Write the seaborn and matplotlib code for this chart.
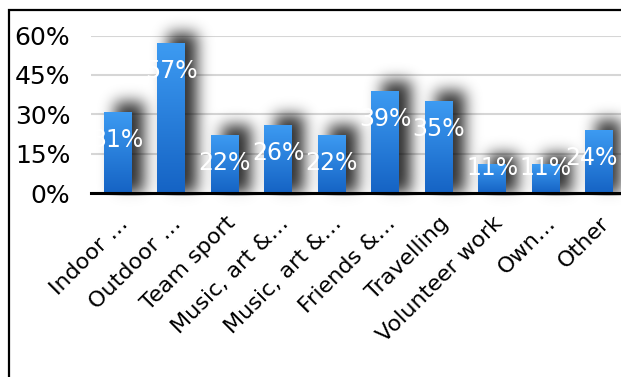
import numpy as np
import matplotlib
matplotlib.use("Agg")
import matplotlib.pyplot as plt
import seaborn as sns
from matplotlib.patches import Rectangle
from matplotlib.colors import LinearSegmentedColormap
from matplotlib.transforms import ScaledTranslation

categories = ["Indoor \u2026", "Outdoor \u2026", "Team sport", "Music, art &\u2026",
              "Music, art &\u2026", "Friends &\u2026", "Travelling", "Volunteer work",
              "Own\u2026", "Other"]
values = [31, 57, 22, 26, 22, 39, 35, 11, 11, 24]
yticks = [0, 15, 30, 45, 60]
ytick_labels = ["0%", "15%", "30%", "45%", "60%"]

W, H, DPI = 621, 377, 100

sns.set_theme(style="white")
plt.rcParams["font.family"] = ["DejaVu Sans"]

fig = plt.figure(figsize=(W / DPI, H / DPI), dpi=DPI)
fig.patch.set_facecolor("white")

# plot area in figure pixels
left_px, right_px, bottom_px, top_px = 91, 626, 193, 35.5
ax = fig.add_axes([left_px / W, 1 - bottom_px / H,
                   (right_px - left_px) / W, (bottom_px - top_px) / H])
ax.set_facecolor("none")

x_idx = np.arange(len(categories))
sns.barplot(x=x_idx, y=values, ax=ax, width=0.52, color="#2f86e6",
            saturation=1, linewidth=0, edgecolor="none", zorder=3)

ax.set_xlim(-0.5, len(categories) - 0.5)
ax.set_ylim(0, 60)
ax.set_yticks(yticks)
ax.set_yticklabels(ytick_labels, fontsize=18, color="black")
ax.set_xticks(x_idx)
ax.set_xticklabels([])
ax.tick_params(axis="y", length=0, pad=15)
ax.tick_params(axis="x", length=0)
ax.set_xlabel("")
ax.set_ylabel("")

ax.grid(axis="y", color="#d6d6d6", linewidth=1.5, zorder=0)
ax.grid(axis="x", visible=False)
ax.set_axisbelow(True)
for s in ["top", "right", "left"]:
    ax.spines[s].set_visible(False)
ax.spines["bottom"].set_color("black")
ax.spines["bottom"].set_linewidth(2.2)
ax.spines["bottom"].set_zorder(5)

# rotated category labels hanging below the axis
cat_offset = ScaledTranslation(0 / DPI, -20 / DPI, fig.dpi_scale_trans)
for i, name in enumerate(categories):
    ax.text(i, 0, name, rotation=45, ha="right", va="top",
            rotation_mode="anchor", fontsize=16, color="black",
            transform=ax.transData + cat_offset, clip_on=False)

fig.canvas.draw()

# soft drop shadow behind bars, built on a pixel grid and blurred
mask = np.zeros((H, W))
bars = list(ax.patches)
for p in bars:
    bb = p.get_window_extent()
    x0, x1 = bb.x0 + 11, bb.x1 + 12
    y0, y1 = bb.y0, bb.y1 + 10
    r0 = int(round(H - y1)); r1 = int(round(H - y0))
    c0 = int(round(x0)); c1 = int(round(x1))
    mask[max(r0, 0):r1, max(c0, 0):min(c1, W)] = 1.0


def blur(a, sigma):
    rad = int(3 * sigma)
    k = np.exp(-0.5 * (np.arange(-rad, rad + 1) / sigma) ** 2)
    k /= k.sum()
    a = np.apply_along_axis(lambda m: np.convolve(m, k, mode="same"), 0, a)
    a = np.apply_along_axis(lambda m: np.convolve(m, k, mode="same"), 1, a)
    return a


shadow = blur(mask, 7.5)
base_row = int(round(bottom_px))
shadow[base_row + 3:, :] *= 0.15
rgba = np.zeros((H, W, 4))
rgba[..., 3] = np.clip(shadow * 0.82, 0, 1)

inv = ax.transData.inverted()
(dx0, dy0) = inv.transform((0, 0))
(dx1, dy1) = inv.transform((W, H))
ax.imshow(rgba, extent=(dx0, dx1, dy0, dy1), origin="upper", aspect="auto",
          interpolation="bilinear", zorder=2, clip_on=False)
ax.set_xlim(-0.5, len(categories) - 0.5)
ax.set_ylim(0, 60)

# vertical gradient fill for each bar
grad_cmap = LinearSegmentedColormap.from_list("barfill", ["#1563c4", "#3d9bf2"])
grad = np.linspace(0, 1, 256).reshape(-1, 1)
for p in bars:
    x, w, h = p.get_x(), p.get_width(), p.get_height()
    im = ax.imshow(grad, cmap=grad_cmap, origin="lower", aspect="auto",
                   extent=(x, x + w, 0, h), zorder=3.5)
    im.set_clip_path(p)
ax.set_xlim(-0.5, len(categories) - 0.5)
ax.set_ylim(0, 60)

# value labels in white near the top of each bar
labels = []
for i, v in enumerate(values):
    y = max(v - 10.7, 9.5)
    labels.append(ax.text(i, y, f"{v}%", color="white", fontsize=17,
                          ha="center", va="center", zorder=6))

# keep value labels inside the chart's right edge
fig.canvas.draw()
renderer = fig.canvas.get_renderer()
for t in labels:
    bb = t.get_window_extent(renderer)
    over = bb.x1 - (W - 3)
    if over > 0:
        t.set_transform(ax.transData + ScaledTranslation(-over / DPI, 0,
                                                         fig.dpi_scale_trans))

# outer chart frame
fig.add_artist(Rectangle((9 / W, -0.2), 1.5, (H - 10) / H + 0.2,
                         transform=fig.transFigure, fill=False,
                         edgecolor="black", linewidth=1.6))

fig.savefig("out.png", dpi=DPI)
